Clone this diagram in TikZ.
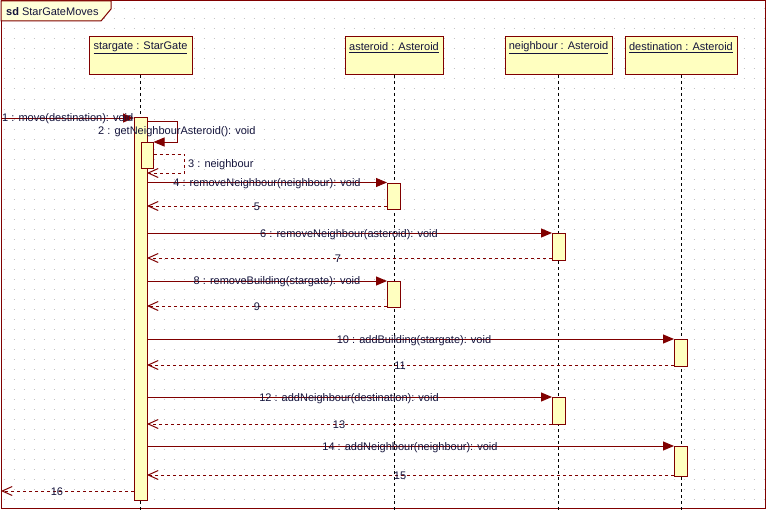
\documentclass[tikz,border=0pt]{standalone}
\usepackage{fontspec}
\setmainfont{Liberation Sans}
\usetikzlibrary{arrows.meta}
\definecolor{umlred}{HTML}{800000}
\definecolor{umlfill}{HTML}{FFFFC0}
\definecolor{umltext}{HTML}{14143C}
\definecolor{griddot}{HTML}{C4C4C4}
\begin{document}
\begin{tikzpicture}[x=1pt,y=-1pt,
  every node/.style={font=\fontsize{11}{13}\selectfont, text=umltext, inner sep=0pt},
  headbox/.style={draw=umlred, fill=umlfill, line width=1pt, minimum height=38pt,
    anchor=north west, outer sep=0pt},
  actbar/.style={draw=umlred, fill=umlfill, line width=1pt, minimum width=13pt,
    anchor=north, outer sep=0pt},
  lifeline/.style={black, line width=1pt, dash pattern=on 3pt off 3pt},
  callmsg/.style={umlred, line width=1pt, -{Triangle[length=11pt,width=9pt]}},
  retmsg/.style={umlred, line width=1pt, dash pattern=on 3pt off 3pt,
    -{Straight Barb[length=10pt,width=9pt,line width=1pt]}},
  msglabel/.style={anchor=center}]
\useasboundingbox (0,0) rectangle (766,511);
\fill[white] (0,0) rectangle (766,511);

% dotted background grid
\foreach \y in {9,19,...,499}
  \draw[griddot, line width=1pt, dash pattern=on 1pt off 9pt] (3.5,\y) -- (765,\y);

% frame and title tab
\draw[umlred, line width=1pt] (1,1) rectangle (765.5,508.5);
\draw[umlred, line width=1pt, fill=umlfill!60] (1,1) -- (111,1) -- (111,9) -- (101,21) -- (1,21) -- cycle;
\node[anchor=west] (title) at (6,12) {\textbf{sd} StarGateMoves};

% lifeline heads
\node[headbox, minimum width=103pt,
  label={[yshift=-11pt, anchor=center]north:\underline{stargate : StarGate}}] (sgh) at (89,37) {};
\node[headbox, minimum width=98pt,
  label={[yshift=-11pt, anchor=center]north:\underline{asteroid : Asteroid}}] (ash) at (345,37) {};
\node[headbox, minimum width=107pt,
  label={[yshift=-11pt, anchor=center]north:\underline{neighbour : Asteroid}}] (nbh) at (505,37) {};
\node[headbox, minimum width=112pt,
  label={[yshift=-11pt, anchor=center]north:\underline{destination : Asteroid}}] (dsh) at (625,37) {};

% lifelines
\coordinate (bottom) at (0,511);
\draw[lifeline] (sgh.south) -- (sgh.south |- bottom);
\draw[lifeline] (ash.south) -- (ash.south |- bottom);
\draw[lifeline] (nbh.south) -- (nbh.south |- bottom);
\draw[lifeline] (dsh.south) -- (dsh.south |- bottom);

% activation bars
\node[actbar, minimum height=383pt] (sg1) at (140.5,117) {};
\node[actbar, minimum width=12pt, minimum height=26pt] (sg2) at (147.5,142) {};
\node[actbar, minimum height=26pt] (a1) at (393.5,183) {};
\node[actbar, minimum height=27pt] (n1) at (558.5,233) {};
\node[actbar, minimum height=26pt] (a2) at (393.5,281) {};
\node[actbar, minimum height=27pt] (d1) at (680.5,339) {};
\node[actbar, minimum height=27pt] (n2) at (558.5,397) {};
\node[actbar, minimum height=30pt] (d2) at (680.5,446) {};

% found and lost message ends on the frame
\coordinate (in1) at (1,118);
\coordinate (out16) at (1,491);

% messages
\draw[callmsg] (in1) -- (in1 -| sg1.west);
\draw[callmsg] (sg1.east |- 0,121) -- ++(30,0) |- (sg2.east |- 0,142);
\draw[retmsg] (sg2.east |- 0,154) -- ++(31,0) |- (sg1.east |- 0,173);
\draw[callmsg] (sg1.east |- 0,182.5) -- (a1.west |- 0,182.5);
\draw[retmsg] (a1.west |- 0,206) -- (sg1.east |- 0,206);
\draw[callmsg] (sg1.east |- 0,233) -- (n1.west |- 0,233);
\draw[retmsg] (n1.west |- 0,258) -- (sg1.east |- 0,258);
\draw[callmsg] (sg1.east |- 0,281) -- (a2.west |- 0,281);
\draw[retmsg] (a2.west |- 0,306) -- (sg1.east |- 0,306);
\draw[callmsg] (sg1.east |- 0,339) -- (d1.west |- 0,339);
\draw[retmsg] (d1.west |- 0,365) -- (sg1.east |- 0,365);
\draw[callmsg] (sg1.east |- 0,397) -- (n2.west |- 0,397);
\draw[retmsg] (n2.west |- 0,424) -- (sg1.east |- 0,424);
\draw[callmsg] (sg1.east |- 0,446) -- (d2.west |- 0,446);
\draw[retmsg] (d2.west |- 0,475) -- (sg1.east |- 0,475);
\draw[retmsg] (sg1.west |- out16) -- (out16);

% message labels
\node[anchor=west] (l1) at (2,119) {1 : move(destination): void};
\node[anchor=west] (l2) at (98,132) {2 : getNeighbourAsteroid(): void};
\node[anchor=west] (l3) at (188,165) {3 : neighbour};
\node[msglabel] (l4) at (267,184) {4 : removeNeighbour(neighbour): void};
\node[msglabel] (l5) at (257,207) {5};
\node[msglabel] (l6) at (349,235) {6 : removeNeighbour(asteroid): void};
\node[msglabel] (l7) at (338,259) {7};
\node[msglabel] (l8) at (277,282) {8 : removeBuilding(stargate): void};
\node[msglabel] (l9) at (257,307) {9};
\node[msglabel] (l10) at (414,341) {10 : addBuilding(stargate): void};
\node[msglabel] (l11) at (400,366) {11};
\node[msglabel] (l12) at (349,399) {12 : addNeighbour(destination): void};
\node[msglabel] (l13) at (339,425) {13};
\node[msglabel] (l14) at (410,448) {14 : addNeighbour(neighbour): void};
\node[msglabel] (l15) at (400,476) {15};
\node[msglabel] (l16) at (57,492) {16};
\end{tikzpicture}
\end{document}
